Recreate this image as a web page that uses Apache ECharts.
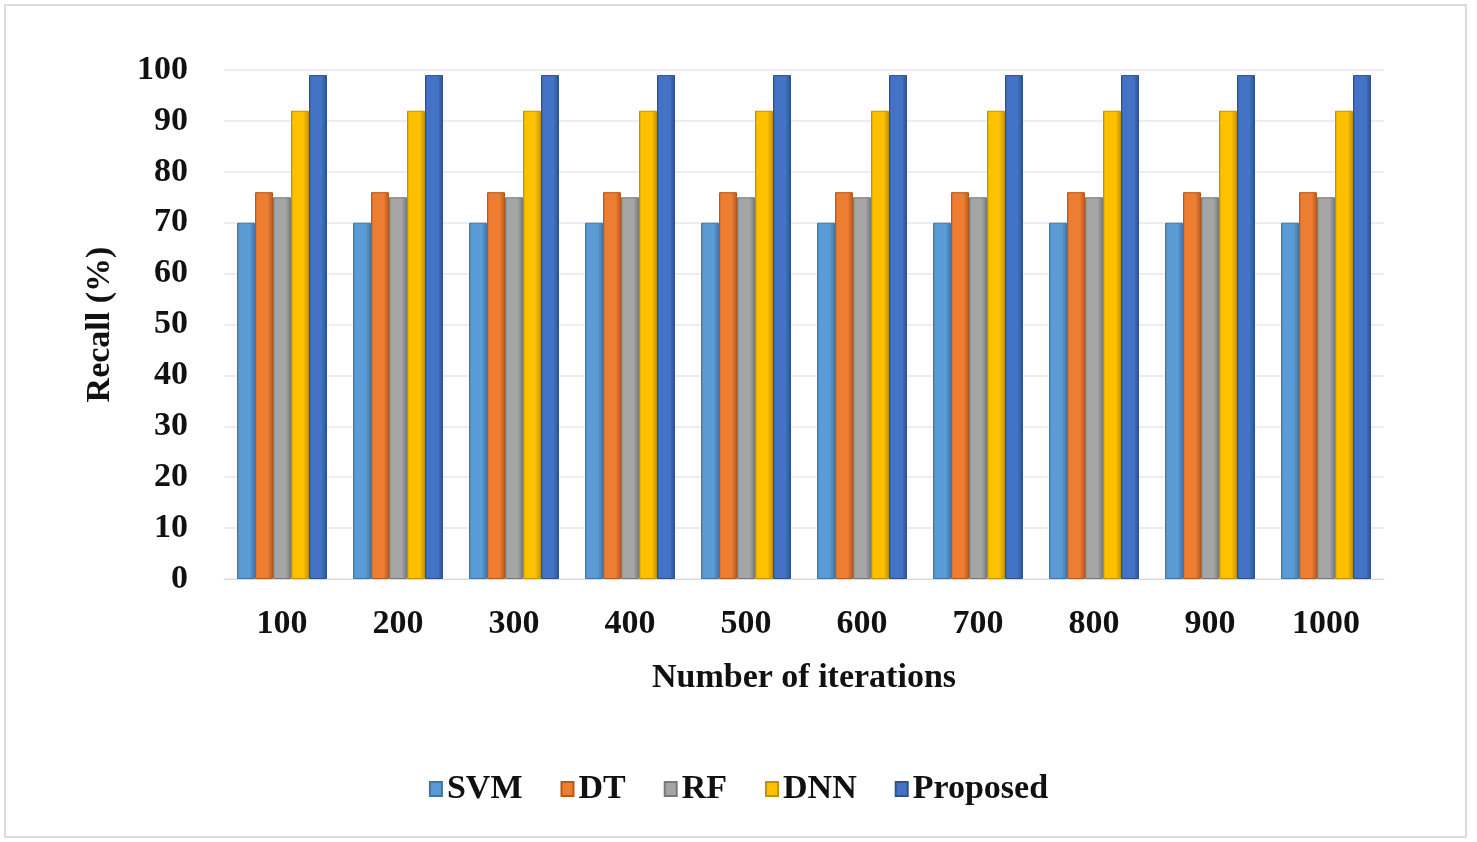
<!DOCTYPE html>
<html>
<head>
<meta charset="utf-8">
<script src="https://cdn.jsdelivr.net/npm/echarts@6/dist/echarts.min.js"></script>
<style>
  html, body { margin: 0; padding: 0; background: #ffffff; }
  #chart { width: 1477px; height: 842px; }
</style>
</head>
<body>
<div id="chart"></div>
<script>
// Recall (%) per method across training iterations
const iterations = ['100', '200', '300', '400', '500', '600', '700', '800', '900', '1000'];
const svm      = [70, 70, 70, 70, 70, 70, 70, 70, 70, 70];
const dt       = [76, 76, 76, 76, 76, 76, 76, 76, 76, 76];
const rf       = [75, 75, 75, 75, 75, 75, 75, 75, 75, 75];
const dnn      = [92, 92, 92, 92, 92, 92, 92, 92, 92, 92];
const proposed = [99, 99, 99, 99, 99, 99, 99, 99, 99, 99];
const yTicks   = [0, 10, 20, 30, 40, 50, 60, 70, 80, 90, 100];

const FONT = '"Liberation Serif", "Times New Roman", serif';
const TEXT = { fontFamily: FONT, fontWeight: 'bold', fontSize: 34, color: '#111' };

// light face with darker side edges, giving the bars a shaded look
function shaded(light, dark) {
  return {
    type: 'linear', x: 0, y: 0, x2: 1, y2: 0,
    colorStops: [
      { offset: 0, color: dark },
      { offset: 0.12, color: light },
      { offset: 0.7, color: light },
      { offset: 1, color: dark }
    ]
  };
}

const seriesDefs = [
  { name: 'SVM',      data: svm,      color: '#5B9BD5', dark: '#3f75a8' },
  { name: 'DT',       data: dt,       color: '#ED7D31', dark: '#b55a1c' },
  { name: 'RF',       data: rf,       color: '#A5A5A5', dark: '#7a7a7a' },
  { name: 'DNN',      data: dnn,      color: '#FFC000', dark: '#c39200' },
  { name: 'Proposed', data: proposed, color: '#4472C4', dark: '#2c5193' }
];

const chart = echarts.init(document.getElementById('chart'), null, { renderer: 'canvas' });

chart.setOption({
  backgroundColor: '#ffffff',
  animation: false,
  graphic: [{
    type: 'rect',
    shape: { x: 5, y: 5, width: 1461, height: 832 },
    style: { fill: 'none', stroke: '#dcdcdc', lineWidth: 2 },
    silent: true
  }],
  legend: {
    bottom: 31,
    left: 'center',
    itemWidth: 12,
    itemHeight: 14,
    itemGap: 38,
    icon: 'rect',
    textStyle: Object.assign({ padding: [0, 0, 0, 0] }, TEXT),
    data: seriesDefs.map(s => ({ name: s.name, itemStyle: { color: s.color } }))
  },
  grid: { left: 224, right: 93, top: 70, bottom: 263, containLabel: false },
  xAxis: {
    type: 'category',
    data: iterations,
    name: 'Number of iterations',
    nameLocation: 'middle',
    nameGap: 82,
    nameTextStyle: TEXT,
    axisLine: { show: true, lineStyle: { color: '#d9d9d9', width: 1 } },
    axisTick: { show: false },
    axisLabel: Object.assign({ margin: 28 }, TEXT),
    splitLine: { show: false }
  },
  yAxis: {
    type: 'value',
    min: yTicks[0],
    max: yTicks[yTicks.length - 1],
    interval: 10,
    name: 'Recall (%)',
    nameLocation: 'middle',
    nameGap: 107,
    nameRotate: 90,
    nameTextStyle: TEXT,
    axisLine: { show: false },
    axisTick: { show: false },
    axisLabel: Object.assign({ margin: 36 }, TEXT),
    splitLine: { show: true, lineStyle: { color: '#e8e8ee', width: 1.5 } }
  },
  series: seriesDefs.map(s => ({
    name: s.name,
    type: 'bar',
    data: s.data,
    barWidth: 18,
    barGap: '0%',
    itemStyle: {
      color: shaded(s.color, s.dark),
      borderColor: s.dark,
      borderWidth: 1
    }
  }))
});
</script>
</body>
</html>
